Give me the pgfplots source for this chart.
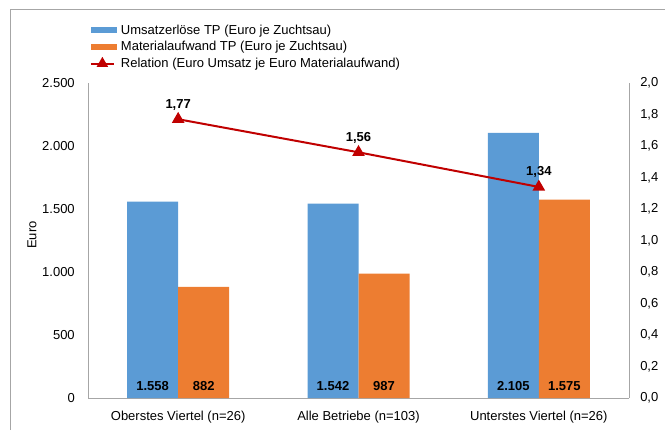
\documentclass[border=0pt]{standalone}
\usepackage{fontspec}
\setmainfont{Liberation Sans}
\usepackage{pgfplots}
\pgfplotsset{compat=1.18}

\definecolor{barBlue}{HTML}{5B9BD5}
\definecolor{barOrange}{HTML}{ED7D31}
\definecolor{lineRed}{HTML}{C00000}
\definecolor{axGray}{HTML}{A6A6A6}

\begin{document}
\begin{tikzpicture}
% canvas 665x430 px, 1 px = 0.75 pt
\useasboundingbox (0,0) rectangle (498.75pt,322.5pt);
\draw[axGray, line width=0.75pt] (7.5pt,0) -- (7.5pt,315.2pt) -- (498.75pt,315.2pt);

% bars, left axis
\begin{axis}[
    at={(66pt,24pt)}, anchor=south west,
    scale only axis,
    width=405.75pt, height=236.25pt,
    font=\fontsize{9.75}{11.5}\selectfont,
    xmin=-0.5, xmax=2.5,
    ymin=0, ymax=2500,
    ytick={0,500,1000,1500,2000,2500},
    xtick={0,1,2},
    xticklabels={Oberstes Viertel (n=26), Alle Betriebe (n=103), Unterstes Viertel (n=26)},
    axis x line*=bottom, axis y line*=left,
    axis line style={axGray, line width=0.75pt, -},
    major tick length=0pt,
    scaled y ticks=false,
    /pgf/number format/assume math mode=true,
    /pgf/number format/.cd, fixed, precision=0, 1000 sep={.},
    /pgfplots/.cd,
    yticklabel style={inner sep=0pt, xshift=-9.75pt},
    xticklabel style={inner sep=0pt, yshift=-9.75pt},
    ylabel={Euro},
    every axis y label/.style={at={(axis description cs:-0.1035,0.517)}, rotate=90, anchor=center},
    ybar, bar width=38.25pt,
    nodes near coords={\pgfmathprintnumber[fixed,precision=0,1000 sep={.}]{\pgfplotspointmeta}},
    visualization depends on={y \as \rawy},
    every node near coord/.append style={font=\fontsize{9.75}{11.5}\selectfont\bfseries, black,
        anchor=center, shift={(axis direction cs:0,-\rawy)}, yshift=9.2pt},
    legend style={draw=none, fill=none, inner sep=0pt, outer sep=0pt,
        at={(axis description cs:0.0037,1.187)}, anchor=north west,
        row sep=2.9pt,
        nodes={inner sep=0pt, text height=7.5pt, text depth=2pt},
        /tikz/every odd column/.append style={column sep=3pt}},
    legend cell align=left,
]
\addplot[fill=barBlue, draw=none, bar shift=-19.125pt,
    legend image code/.code={\fill[barBlue] (0pt,-2.25pt) rectangle (19.5pt,2.25pt);}]
    coordinates {(0,1558) (1,1542) (2,2105)};
\addlegendentry{Umsatzerlöse TP (Euro je Zuchtsau)}
\addplot[fill=barOrange, draw=none, bar shift=19.125pt,
    legend image code/.code={\fill[barOrange] (0pt,-2.25pt) rectangle (19.5pt,2.25pt);}]
    coordinates {(0,882) (1,987) (2,1575)};
\addlegendentry{Materialaufwand TP (Euro je Zuchtsau)}
\addlegendimage{line legend, sharp plot, lineRed, line width=1.5pt, mark=triangle*, mark size=3.5pt}
\addlegendentry{Relation (Euro Umsatz je Euro Materialaufwand)}
\end{axis}

% ratio line, right axis
\begin{axis}[
    at={(66pt,24pt)}, anchor=south west,
    scale only axis,
    width=405.75pt, height=236.25pt,
    font=\fontsize{9.75}{11.5}\selectfont,
    xmin=-0.5, xmax=2.5,
    ymin=0, ymax=2,
    ytick={0,0.2,0.4,0.6,0.8,1.0,1.2,1.4,1.6,1.8,2.0},
    axis x line=none, axis y line*=right,
    axis line style={axGray, line width=0.75pt, -},
    major tick length=0pt,
    /pgf/number format/assume math mode=true,
    /pgf/number format/.cd, fixed, fixed zerofill, precision=1, use comma,
    /pgfplots/.cd,
    yticklabel style={inner sep=0pt, xshift=8.25pt},
]
\addplot[color=lineRed, line width=1.5pt, mark=triangle*, mark size=4pt,
    nodes near coords={\pgfmathprintnumber[fixed,fixed zerofill,precision=2,use comma]{\pgfplotspointmeta}},
    every node near coord/.append style={font=\fontsize{9.75}{11.5}\selectfont\bfseries, black,
        anchor=center, yshift=11pt}]
    coordinates {(0,1.77) (1,1.56) (2,1.34)};
\end{axis}
\end{tikzpicture}
\end{document}
